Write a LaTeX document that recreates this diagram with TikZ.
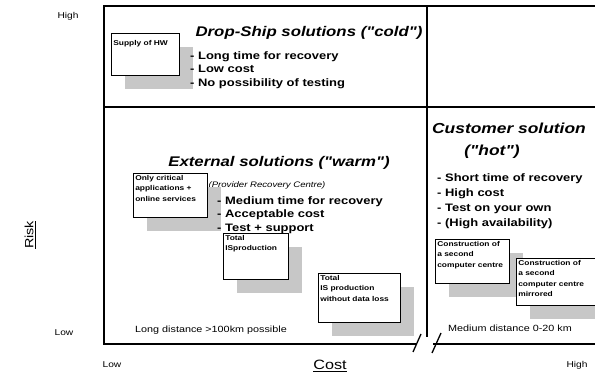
\documentclass[tikz,border=0pt]{standalone}
\usepackage{fontspec}
\setmainfont{Liberation Sans}[Ligatures=TeXOff, FakeStretch=1.2]
\usetikzlibrary{positioning, shadows}

\newcommand{\optlines}[3]{\parbox[t][#1][t]{#2}{\raggedright #3}}

\begin{document}
\begin{tikzpicture}[x=1pt, y=-1pt,
        frame/.style={line width=2.8pt},
        cutmark/.style={line width=1.3pt},
        areatitle/.style={font=\fontsize{14}{16}\selectfont\bfseries\itshape},
        pointlist/.style={font=\fontsize{10.8}{13.5}\selectfont\bfseries, align=left, anchor=north west, inner sep=0pt},
        optbox/.style={draw, fill=white, line width=0.6pt, anchor=north west, inner sep=2pt,
            font=\fontsize{7}{10.5}\selectfont\bfseries,
            drop shadow={shadow xshift=14pt, shadow yshift=-14pt, fill=black!22, opacity=1}},
        axislabel/.style={font=\fontsize{8.5}{10}\selectfont},
        distnote/.style={font=\fontsize{9}{11}\selectfont}
    ]
        \useasboundingbox (0,0) rectangle (595,377);

        % Quadrant frame with broken cost axis
        \draw[frame] (595,6) -- (104,6) -- (104,344) -- (417,344);
        \draw[frame] (433,344) -- (595,344);
        \draw[frame] (104,107) -- (595,107);
        \draw[frame] (427,6) -- (427,337);
        \draw[cutmark] (413,352) -- (421,334);
        \draw[cutmark] (432,353) -- (441,333);

        % Axes
        \node[axislabel] (riskhigh) at (68,16) {High};
        \node[axislabel] (risklow) at (64,333) {Low};
        \node[font=\fontsize{12}{14}\selectfont, rotate=90] (risk) at (30,235) {\underline{Risk}};
        \node[axislabel] (costlow) at (112,365) {Low};
        \node[axislabel] (costhigh) at (577,365) {High};
        \node[font=\fontsize{13.5}{15}\selectfont] (cost) at (330,366) {\underline{Cost}};

        % Cold
        \node[areatitle] (cold) at (309,33) {Drop-Ship solutions ("cold")};
        \node[optbox] (hw) at (111,33) {\optlines{38pt}{64pt}{\vspace*{5pt}Supply of HW}};
        \node[pointlist] (coldlist) at (190,51) {- Long time for recovery\\- Low cost\\- No possibility of testing};

        % Warm
        \node[areatitle] (warm) at (279,163) {External solutions ("warm")};
        \node[font=\fontsize{8}{9}\selectfont\itshape, below=5pt of warm, xshift=-12pt] (prc) {(Provider Recovery Centre)};
        \node[optbox] (crit) at (133,173) {\optlines{40pt}{70pt}{Only critical\\applications +\\online services}};
        \node[pointlist] (warmlist) at (217,196) {- Medium time for recovery\\- Acceptable cost\\- Test + support};
        \node[optbox] (isprod) at (223,233) {\optlines{42pt}{61pt}{Total\\ISproduction}};
        \node[optbox] (noloss) at (318,273) {\optlines{45pt}{78pt}{Total\\IS production\\without data loss}};
        \node[distnote] (longdist) at (211,330) {Long distance >100km possible};

        % Hot
        \node[areatitle, font=\fontsize{14.5}{16}\selectfont\bfseries\itshape] (customer) at (509,128) {Customer solution};
        \node[areatitle, font=\fontsize{14.5}{16}\selectfont\bfseries\itshape] (hot) at (492,152) {("hot")};
        \node[pointlist, font=\fontsize{10.8}{15}\selectfont\bfseries] (hotlist) at (437,173) {- Short time of recovery\\- High cost\\- Test on your own\\- (High availability)};
        \node[optbox] (second) at (435,239) {\optlines{40pt}{70pt}{Construction of\\a second\\computer centre}};
        \node[optbox] (mirror) at (516,258) {\optlines{43pt}{76pt}{Construction of\\a second\\computer centre\\mirrored}};
        \node[distnote] (meddist) at (510,328) {Medium distance 0-20 km};

    \end{tikzpicture}
\end{document}
